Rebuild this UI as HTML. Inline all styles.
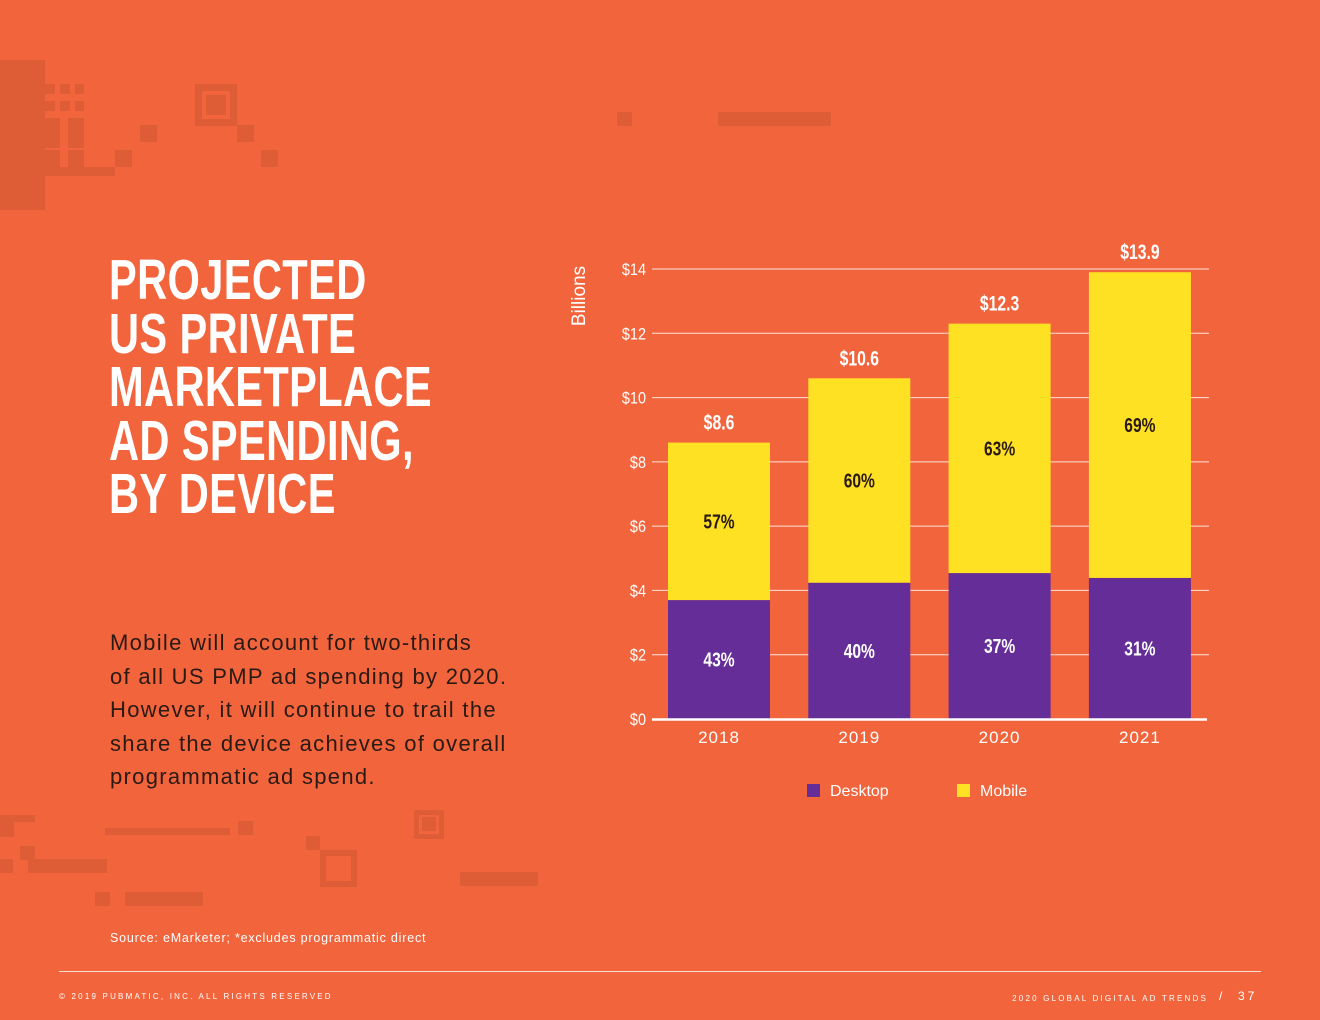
<!DOCTYPE html>
<html><head><meta charset="utf-8"><style>
html,body{margin:0;padding:0}
body{width:1320px;height:1020px;background:#F2643C;position:relative;overflow:hidden;font-family:"Liberation Sans",sans-serif}
.d{position:absolute;background:#DE5C36}
.t{position:absolute;left:109px;top:254px;color:#fff;font-family:"Liberation Sans",sans-serif;font-weight:bold;font-size:57px;line-height:53.5px;letter-spacing:0.5px;transform:scaleX(0.73);transform-origin:0 0;white-space:nowrap}
.body{position:absolute;left:110px;top:626px;color:#2a1a14;font-size:22px;line-height:33.5px;letter-spacing:1.3px;white-space:nowrap}
</style></head><body>
<div>
<div class="d" style="left:0;top:60px;width:45px;height:150px"></div>
<div class="d" style="left:45px;top:84px;width:10px;height:10px"></div>
<div class="d" style="left:60px;top:84px;width:10px;height:10px"></div>
<div class="d" style="left:75px;top:84px;width:9px;height:10px"></div>
<div class="d" style="left:45px;top:101px;width:10px;height:10px"></div>
<div class="d" style="left:60px;top:101px;width:10px;height:10px"></div>
<div class="d" style="left:75px;top:101px;width:9px;height:10px"></div>
<div class="d" style="left:45px;top:118px;width:15px;height:30px"></div>
<div class="d" style="left:68px;top:118px;width:16px;height:30px"></div>
<div class="d" style="left:45px;top:150px;width:15px;height:17px"></div>
<div class="d" style="left:68px;top:150px;width:16px;height:17px"></div>
<div class="d" style="left:45px;top:167px;width:70px;height:9px"></div>
<div class="d" style="left:115px;top:150px;width:17px;height:17px"></div>
<div class="d" style="left:140px;top:125px;width:17px;height:17px"></div>
<div class="d" style="left:195px;top:84px;width:42px;height:42px;background:none;border:7px solid #DE5C36;box-sizing:border-box"></div>
<div class="d" style="left:206px;top:95px;width:20px;height:20px"></div>
<div class="d" style="left:237px;top:125px;width:17px;height:17px"></div>
<div class="d" style="left:261px;top:150px;width:17px;height:17px"></div>
<div class="d" style="left:617px;top:112px;width:15px;height:14px"></div>
<div class="d" style="left:718px;top:112px;width:113px;height:14px"></div>
</div>
<div>
<div class="d" style="left:0;top:815px;width:35px;height:7px"></div>
<div class="d" style="left:0;top:815px;width:14px;height:22px"></div>
<div class="d" style="left:20px;top:846px;width:15px;height:14px"></div>
<div class="d" style="left:0;top:859px;width:13px;height:14px"></div>
<div class="d" style="left:28px;top:859px;width:79px;height:14px"></div>
<div class="d" style="left:105px;top:828px;width:125px;height:7px"></div>
<div class="d" style="left:238px;top:821px;width:15px;height:14px"></div>
<div class="d" style="left:95px;top:892px;width:15px;height:14px"></div>
<div class="d" style="left:125px;top:892px;width:78px;height:14px"></div>
<div class="d" style="left:306px;top:836px;width:14px;height:14px"></div>
<div class="d" style="left:320px;top:850px;width:37px;height:37px;background:none;border:6px solid #DE5C36;box-sizing:border-box"></div>
<div class="d" style="left:414px;top:810px;width:30px;height:29px;background:none;border:5px solid #DE5C36;box-sizing:border-box"></div>
<div class="d" style="left:422px;top:817px;width:14px;height:14px"></div>
<div class="d" style="left:460px;top:872px;width:78px;height:14px"></div>
</div>

<div class="t">PROJECTED<br>US PRIVATE<br>MARKETPLACE<br>AD SPENDING,<br>BY DEVICE</div>
<div class="body">Mobile will account for two-thirds<br>of all US PMP ad spending by 2020.<br>However, it will continue to trail the<br>share the device achieves of overall<br>programmatic ad spend.</div>
<div style="position:absolute;left:110px;top:931px;color:#fff;font-size:12.5px;letter-spacing:0.8px">Source: eMarketer; *excludes programmatic direct</div>
<div style="position:absolute;left:59px;top:971px;width:1202px;height:1px;background:#f6e0d6"></div>
<div style="position:absolute;left:59px;top:992px;color:#fff;font-size:8px;letter-spacing:2.2px">© 2019 PUBMATIC, INC. ALL RIGHTS RESERVED</div>
<div style="position:absolute;right:112px;top:994px;color:#fff;font-size:8px;letter-spacing:2.2px">2020 GLOBAL DIGITAL AD TRENDS</div>
<div style="position:absolute;left:1219px;top:989px;color:#fff;font-size:12px;letter-spacing:3px">/&nbsp;&nbsp;37</div>

<svg id="chart" width="1320" height="1020" style="position:absolute;left:0;top:0"></svg>
<script>
const categories=["2018","2019","2020","2021"];
const desktop=[3.7,4.24,4.54,4.39];
const mobile=[4.9,6.36,7.76,9.51];
const totalLabels=["$8.6","$10.6","$12.3","$13.9"];
const desktopPct=["43%","40%","37%","31%"];
const mobilePct=["57%","60%","63%","69%"];
const yTicks=[0,2,4,6,8,10,12,14];
const NS="http://www.w3.org/2000/svg";
const svg=document.getElementById("chart");
const y0=719,pxPer=(719-269)/14;
const y=v=>y0-v*pxPer;
const xc=i=>719+i*140.3;
const bw=102;
function mk(tag,attrs,txt){const e=document.createElementNS(NS,tag);for(const k in attrs)e.setAttribute(k,attrs[k]);if(txt!==undefined)e.textContent=txt;svg.appendChild(e);return e;}
const F="Liberation Sans, sans-serif";
yTicks.forEach(t=>{
 if(t>0){const g=mk("line",{x1:652,x2:1209,y1:y(t),y2:y(t),stroke:"#fbe3d8","stroke-width":1});
 
 }
 const l=mk("text",{x:0,y:0,transform:"translate(646,"+(y(t)+6)+") scale(0.85,1)","text-anchor":"end",fill:"#fff","font-size":"17","font-family":F},"$"+t);
 
 
});
const yt=mk("text",{x:0,y:0,transform:"translate(585,296) rotate(-90)","text-anchor":"middle",fill:"#fff","font-size":"19","font-family":F},"Billions");


categories.forEach((c,i)=>{
 const x=xc(i)-bw/2;
 const d=mk("rect",{x:x,y:y(desktop[i]),width:bw,height:y0-y(desktop[i]),fill:"#652D98"});
 
 
 const top=desktop[i]+mobile[i];
 const m=mk("rect",{x:x,y:y(top),width:bw,height:y(desktop[i])-y(top),fill:"#FFE124"});
 
 
 const tl=mk("text",{x:0,y:0,transform:"translate("+xc(i)+","+(y(top)-13)+") scale(0.75,1)","text-anchor":"middle",fill:"#fff","font-size":"21","font-weight":"bold","font-family":F},totalLabels[i]);
 
 
 const mp=mk("text",{x:0,y:0,transform:"translate("+xc(i)+","+((y(top)+y(desktop[i]))/2+7)+") scale(0.78,1)","text-anchor":"middle",fill:"#2a1a14","font-size":"20","font-weight":"bold","font-family":F},mobilePct[i]);
 
 
 const dp=mk("text",{x:0,y:0,transform:"translate("+xc(i)+","+((y(desktop[i])+y0)/2+7)+") scale(0.78,1)","text-anchor":"middle",fill:"#fff","font-size":"20","font-weight":"bold","font-family":F},desktopPct[i]);
 
 
 const xl=mk("text",{x:xc(i),y:743,"text-anchor":"middle",fill:"#fff","font-size":"17","font-family":F,"letter-spacing":"1"},c);
 
 
});
const ax=mk("line",{x1:652,x2:1207,y1:y0+0.5,y2:y0+0.5,stroke:"#fff","stroke-width":2.5});


const lg=[["Desktop","#652D98",807],["Mobile","#FFE124",957]];
lg.forEach(l=>{
 const r=mk("rect",{x:l[2],y:784,width:13,height:13,fill:l[1]});
 
 
 const t=mk("text",{x:l[2]+23,y:796,fill:"#fff","font-size":"16","font-family":F},l[0]);
 
 
});
</script>
</body></html>
